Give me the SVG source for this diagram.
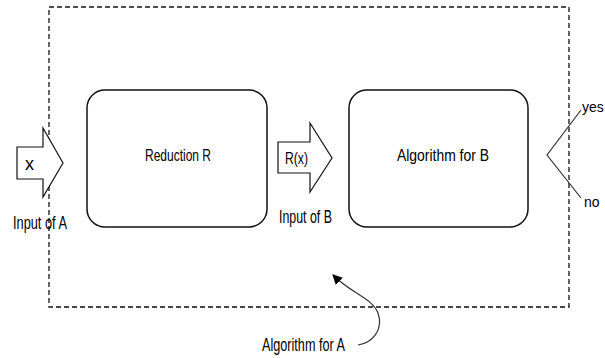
<svg xmlns="http://www.w3.org/2000/svg" width="605" height="358" viewBox="0 0 605 358">
<style>
.t{font-family:"Liberation Sans",Arial,sans-serif;fill:#000;}
.box{fill:#fff;stroke:#111;stroke-width:1.5;}
.blk{fill:#fff;stroke:#111;stroke-width:1.2;stroke-linejoin:miter;}
.ln{fill:none;stroke:#333;stroke-width:1.2;}
</style>
<defs>
<marker id="ah" viewBox="0 0 10 10" refX="9" refY="5" markerWidth="10" markerHeight="10" markerUnits="userSpaceOnUse" orient="auto">
<path d="M0,0 L10,5 L0,10 Z" fill="#000"/>
</marker>
</defs>
<rect width="605" height="358" fill="#fff"/>
<g id="algA-boundary">
<rect x="49" y="7" width="520" height="300" fill="none" stroke="#111" stroke-width="1.3" stroke-dasharray="5,3"/>
</g>
<g id="reduction">
<rect class="box" x="87" y="90" width="180" height="137" rx="18"/>
<text class="t" x="145" y="161" font-size="17" textLength="66" lengthAdjust="spacingAndGlyphs">Reduction R</text>
</g>
<g id="algB">
<rect class="box" x="349" y="90" width="179" height="137" rx="18"/>
<text class="t" x="397" y="161" font-size="17" textLength="92" lengthAdjust="spacingAndGlyphs">Algorithm for B</text>
</g>
<g id="inputA">
<polygon class="blk" points="17,147 43,147 43,128 63,163 43,197 43,179 17,179"/>
<text class="t" x="25" y="170" font-size="18" textLength="9" lengthAdjust="spacingAndGlyphs">x</text>
<text class="t" x="13" y="229" font-size="19" textLength="54" lengthAdjust="spacingAndGlyphs">Input of A</text>
</g>
<g id="inputB">
<polygon class="blk" points="278,142 310,142 310,123 332,158 310,192 310,173 278,173"/>
<text class="t" x="285" y="164" font-size="17" textLength="23" lengthAdjust="spacingAndGlyphs">R(x)</text>
<text class="t" x="279" y="223" font-size="19" textLength="53" lengthAdjust="spacingAndGlyphs">Input of B</text>
</g>
<g id="connectors">
<polyline class="ln" points="581,110 547,155 581,198"/>
<path class="ln" d="M358,345 C372,343 384,330 378,313 C372,298 352,294 333,275" marker-end="url(#ah)"/>
</g>
<g id="outputs">
<text class="t" x="582" y="112" font-size="14">yes</text>
<text class="t" x="584" y="207" font-size="14">no</text>
</g>
<g id="algA-label">
<text class="t" x="262" y="351" font-size="18" textLength="83" lengthAdjust="spacingAndGlyphs">Algorithm for A</text>
</g>
</svg>
